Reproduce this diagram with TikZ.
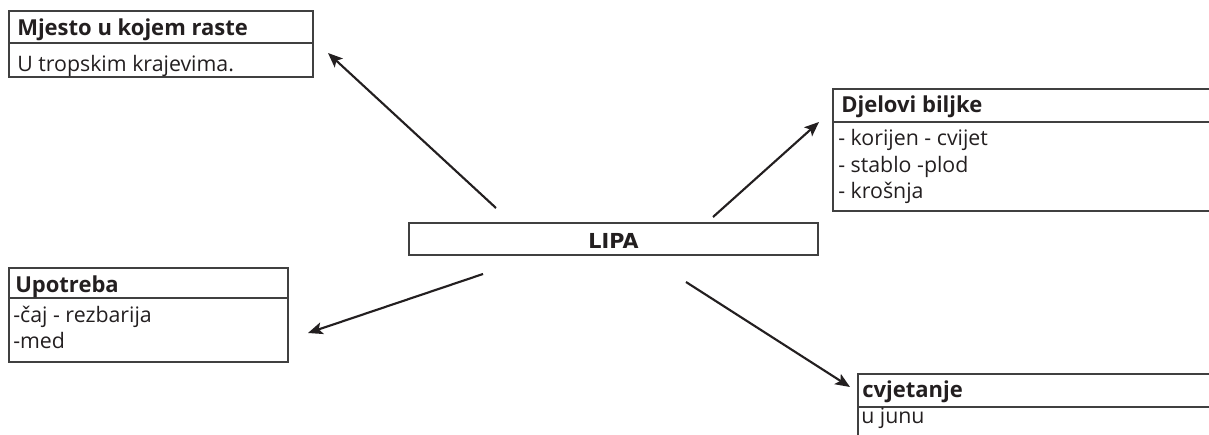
\documentclass[tikz,border=0pt]{standalone}
\usepackage{fontspec}
\setmainfont{Open Sans}
\newfontfamily\lipafont{DejaVu Sans}
\usetikzlibrary{arrows.meta}
\definecolor{ink}{HTML}{231F20}
\definecolor{frame}{HTML}{404040}
\begin{document}
\begin{tikzpicture}[x=0.75pt,y=-0.75pt,
  boxline/.style={draw=frame,line width=1.1pt},
  hd/.style={anchor=base west,inner sep=0pt,font=\fontsize{16.5}{19}\selectfont\bfseries,text=ink},
  bd/.style={anchor=base west,inner sep=0pt,font=\fontsize{16}{19}\selectfont,text=ink},
  arr/.style={draw=ink,line width=1.6pt,-{Stealth[length=11pt,width=9pt,inset=2.5pt]}}]
\useasboundingbox (0,0) rectangle (1209,435);
% Box 1: Mjesto u kojem raste
\draw[boxline] (9,11) rectangle (313,77);
\draw[boxline] (9,43) -- (313,43);
\node[hd] (h1) at (17,36) {Mjesto u kojem raste};
\node[bd] (b1) at (17,71) {U tropskim krajevima.};
% Box 2: Djelovi biljke (cut by right edge)
\draw[boxline] (1215,89) -- (833,89) -- (833,211) -- (1215,211);
\draw[boxline] (833,122) -- (1215,122);
\node[hd] (h2) at (841,113) {Djelovi biljke};
\node[bd] (b2a) at (838,145) {- korijen - cvijet};
\node[bd] (b2b) at (838,172) {- stablo -plod};
\node[bd] (b2c) at (838,198) {- krošnja};
% Box 3: Upotreba
\draw[boxline] (9,268) rectangle (288,362);
\draw[boxline] (9,298) -- (288,298);
\node[hd] (h3) at (15,292) {Upotreba};
\node[bd] (b3a) at (13,322) {-čaj - rezbarija};
\node[bd] (b3b) at (13,348) {-med};
% Box 4: cvjetanje (cut by right and bottom edges)
\draw[boxline] (1215,374) -- (858,374) -- (858,440);
\draw[boxline] (858,407) -- (1215,407);
\node[hd] (h4) at (862,397) {cvjetanje};
\node[bd] (b4) at (861,423) {u junu};
% Centre: LIPA
\draw[boxline] (409,223) rectangle (818,255);
\node[anchor=base,inner sep=0pt,font=\lipafont\fontsize{15.5}{18}\selectfont\bfseries,text=ink] (lipa) at (613.5,248) {LIPA};
% Arrow endpoints
\coordinate (t1) at (496,208); \coordinate (p1) at (328,53);
\coordinate (t2) at (713,217); \coordinate (p2) at (819,122);
\coordinate (t3) at (483,274); \coordinate (p3) at (308,333);
\coordinate (t4) at (686,282); \coordinate (p4) at (850,387);
\draw[arr] (t1) -- (p1);
\draw[arr] (t2) -- (p2);
\draw[arr] (t3) -- (p3);
\draw[arr] (t4) -- (p4);
\end{tikzpicture}
\end{document}
